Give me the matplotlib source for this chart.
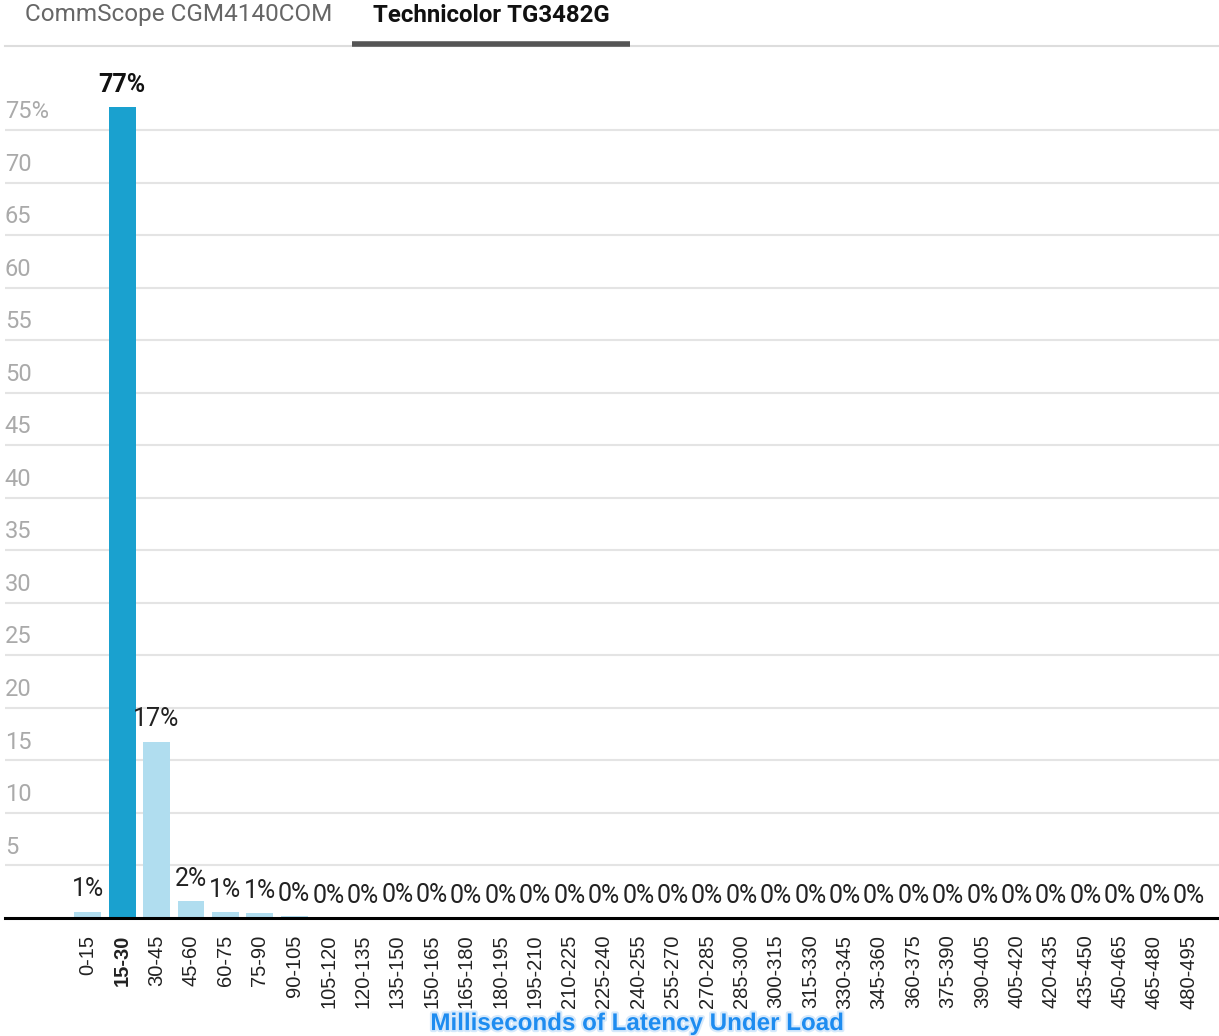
import matplotlib
matplotlib.use("Agg")
import matplotlib.pyplot as plt
import matplotlib.patheffects as pe
import numpy as np

plt.rcParams['font.family'] = ['Roboto', 'DejaVu Sans']

# 数据
bins = ["0-15", "15-30", "30-45", "45-60", "60-75", "75-90", "90-105",
        "105-120", "120-135", "135-150", "150-165", "165-180", "180-195",
        "195-210", "210-225", "225-240", "240-255", "255-270", "270-285",
        "285-300", "300-315", "315-330", "330-345", "345-360", "360-375",
        "375-390", "390-405", "405-420", "420-435", "435-450", "450-465",
        "465-480", "480-495"]
values = [0.6, 77.2, 16.8, 1.6, 0.55, 0.5, 0.2, 0.0, 0.0, 0.1, 0.1,
          0, 0, 0, 0, 0, 0, 0, 0, 0, 0, 0, 0, 0, 0, 0, 0, 0, 0, 0, 0, 0, 0]
pct_labels = ["1%", "77%", "17%", "2%", "1%", "1%"] + ["0%"] * 27
y_ticks = [5, 10, 15, 20, 25, 30, 35, 40, 45, 50, 55, 60, 65, 70, 75]
selected = 1  # 15-30 高亮

tabs = ["CommScope CGM4140COM", "Technicolor TG3482G"]
x_title = "Milliseconds of Latency Under Load"

fig = plt.figure(figsize=(12.19, 10.36), dpi=100)
ax = fig.add_axes([0.004, 0.1139, 0.996, 0.811])

x = np.arange(len(bins))
colors = ["#1aa1cf" if i == selected else "#b0ddef" for i in x]
ax.bar(x, values, width=0.78, color=colors, zorder=2)

# 柱顶标签
for i, (v, lab) in enumerate(zip(values, pct_labels)):
    ax.annotate(lab, (i, v), xytext=(0, 16), textcoords="offset points",
                ha="center", va="center", fontsize=18,
                color="#111111" if i == selected else "#222222",
                fontweight="bold" if i == selected else "normal")

ax.set_xlim(-2.41, 32.88)
ax.set_ylim(0, 80)

# 网格线 + y轴标签
for t in y_ticks:
    ax.axhline(t, color="#e4e4e4", lw=1.5, zorder=1)
    lab = f"{t}%" if t == y_ticks[-1] else str(t)
    ax.annotate(lab, (0, t), xycoords=("axes fraction", "data"),
                xytext=(0, 5), textcoords="offset points",
                ha="left", va="bottom", fontsize=17, color="#aaaaaa")

ax.set_yticks([])
ax.set_xticks(x)
ax.set_xticklabels(bins, rotation=90, fontsize=14.5, color="#222222",
                   family=["Liberation Sans", "DejaVu Sans"])
ax.tick_params(axis="x", length=0, pad=12)
for i, tl in enumerate(ax.get_xticklabels()):
    if i == selected:
        tl.set_fontweight("bold")

for s in ["top", "right", "left"]:
    ax.spines[s].set_visible(False)
ax.spines["bottom"].set_color("black")
ax.spines["bottom"].set_linewidth(2.2)
ax.spines["bottom"].set_zorder(3)

# x轴标题
fig.text(0.5226, 0.012, x_title, ha="center", va="center", fontsize=17.4,
         fontweight="bold", color="#1e8cf0",
         family=["Liberation Sans", "DejaVu Sans"],
         path_effects=[pe.withStroke(linewidth=3, foreground="#d6e9fb")])

# 顶部标签页
fig.text(25 / 1219, 1 - 15 / 1036, tabs[0], ha="left", va="center",
         fontsize=17.5, color="#666666")
fig.text(373 / 1219, 1 - 15 / 1036, tabs[1], ha="left", va="center",
         fontsize=17.3, color="#111111", fontweight="bold")
fig.add_artist(plt.Line2D([5 / 1219, 1], [1 - 46 / 1036] * 2,
                          color="#dddddd", lw=1.5))
fig.add_artist(plt.Line2D([352 / 1219, 630 / 1219], [1 - 43.5 / 1036] * 2,
                          color="#555555", lw=4, solid_capstyle="butt"))

fig.savefig("out.png", dpi=100)
